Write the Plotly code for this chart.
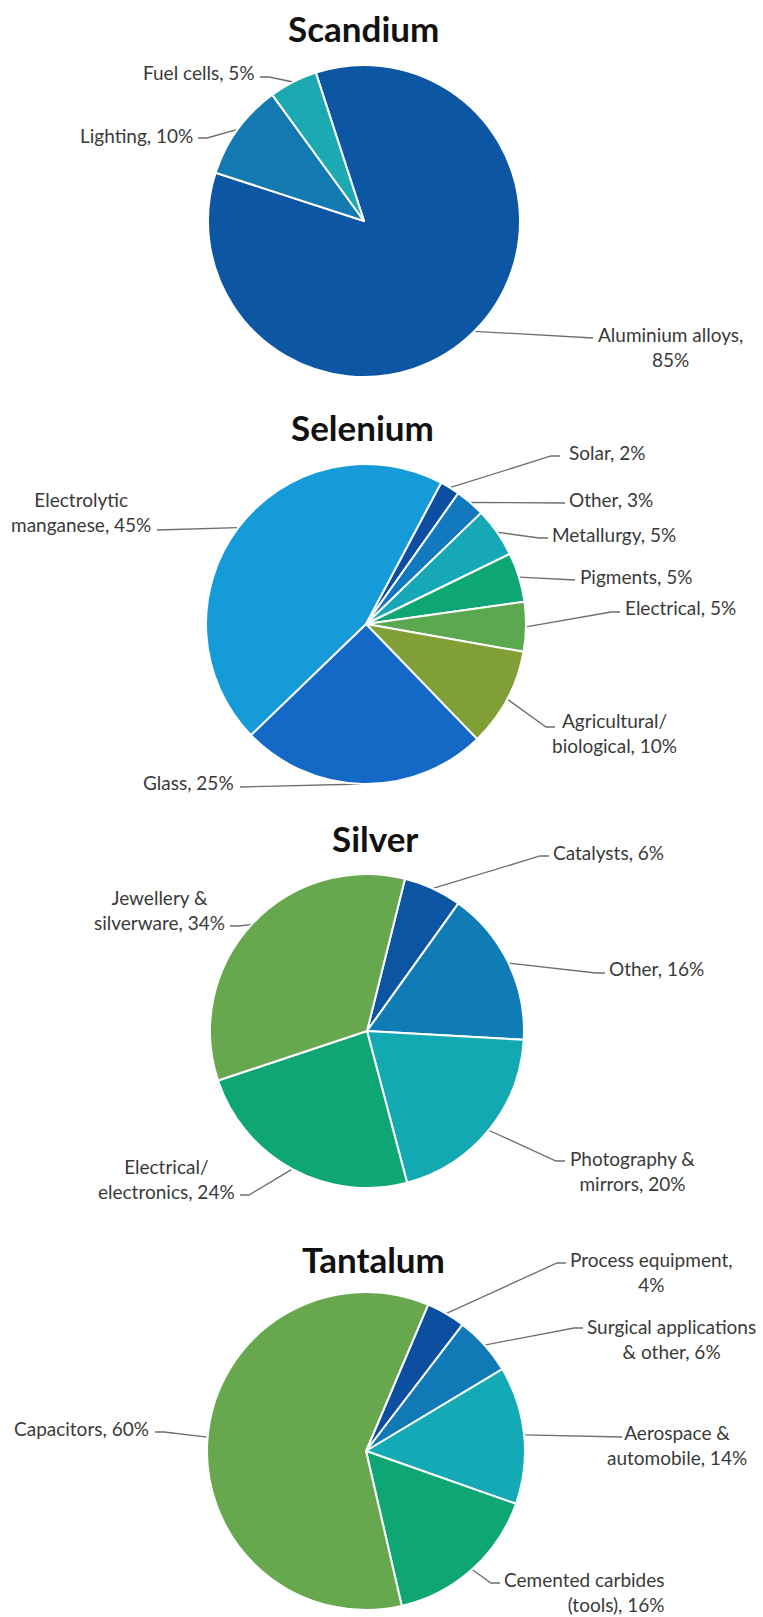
import math
import plotly.graph_objects as go

# ---- data -------------------------------------------------------------
scandium_labels = ["Aluminium alloys", "Lighting", "Fuel cells"]
scandium_values = [85, 10, 5]

selenium_labels = ["Solar", "Other", "Metallurgy", "Pigments", "Electrical",
                   "Agricultural/ biological", "Glass", "Electrolytic manganese"]
selenium_values = [2, 3, 5, 5, 5, 10, 25, 45]

silver_labels = ["Catalysts", "Other", "Photography & mirrors",
                 "Electrical/ electronics", "Jewellery & silverware"]
silver_values = [6, 16, 20, 24, 34]

tantalum_labels = ["Process equipment", "Surgical applications & other",
                   "Aerospace & automobile", "Cemented carbides (tools)", "Capacitors"]
tantalum_values = [4, 6, 14, 16, 60]

# ---- styling / layout -------------------------------------------------
W, H = 763, 1617
FONT = "Lato, 'Open Sans', sans-serif"
TEXT_COLOR = "#3a3a3a"
LINE_COLOR = "#6e6e6e"
LABEL_SIZE = 19
TITLE_SIZE = 35

# per label: (display template, x, y, xanchor, align, leader end x, leader end y)
charts = [
    dict(title="Scandium", tx=363, ty=28, cx=364, cy=221, r=156, rotation=-18,
         labels=scandium_labels, values=scandium_values,
         colors=["#0D56A3", "#1379B1", "#1CA9B1"],
         place={
             "Aluminium alloys": ("{n},|{v}%", 596, 347, "left", "center", 593, 338),
             "Lighting": ("{n}, {v}%", 195, 135, "right", "right", 198, 138),
             "Fuel cells": ("{n}, {v}%", 257, 72, "right", "right", 260, 77),
         }),
    dict(title="Selenium", tx=362, ty=427, cx=366, cy=624, r=160, rotation=28,
         labels=selenium_labels, values=selenium_values,
         colors=["#0C4FA2", "#1279BF", "#17A8B7", "#0FA676", "#5CA851",
                 "#819F37", "#1468C6", "#159CD8"],
         place={
             "Solar": ("{n}, {v}%", 567, 452, "left", "left", 560, 456),
             "Other": ("{n}, {v}%", 567, 499, "left", "left", 565, 503),
             "Metallurgy": ("{n}, {v}%", 550, 534, "left", "left", 548, 538),
             "Pigments": ("{n}, {v}%", 578, 576, "left", "left", 575, 580),
             "Electrical": ("{n}, {v}%", 623, 607, "left", "left", 620, 612),
             "Agricultural/ biological": ("Agricultural/|biological, {v}%", 550, 733, "left", "center", 555, 727),
             "Glass": ("{n}, {v}%", 236, 782, "right", "right", 240, 787),
             "Electrolytic manganese": ("Electrolytic|manganese, {v}%", 153, 512, "right", "center", 157, 530),
         }),
    dict(title="Silver", tx=375, ty=838, cx=367, cy=1031, r=157, rotation=14,
         labels=silver_labels, values=silver_values,
         colors=["#0C55A3", "#107CB5", "#13A9B3", "#0FA676", "#67A74D"],
         place={
             "Catalysts": ("{n}, {v}%", 551, 852, "left", "left", 549, 856),
             "Other": ("{n}, {v}%", 607, 968, "left", "left", 605, 973),
             "Photography & mirrors": ("Photography &|mirrors, {v}%", 568, 1171, "left", "center", 565, 1161),
             "Electrical/ electronics": ("Electrical/|electronics, {v}%", 237, 1179, "right", "center", 240, 1195),
             "Jewellery & silverware": ("Jewellery &|silverware, {v}%", 227, 910, "right", "center", 230, 926),
         }),
    dict(title="Tantalum", tx=373, ty=1259, cx=366, cy=1451, r=159, rotation=23,
         labels=tantalum_labels, values=tantalum_values,
         colors=["#0C4FA0", "#1279B7", "#13A9B5", "#0FA676", "#67A74D"],
         place={
             "Process equipment": ("Process equipment,|{v}%", 568, 1272, "left", "center", 566, 1263),
             "Surgical applications & other": ("Surgical applications|& other, {v}%", 585, 1339, "left", "center", 583, 1328),
             "Aerospace & automobile": ("Aerospace &|automobile, {v}%", 605, 1445, "left", "center", 622, 1437),
             "Cemented carbides (tools)": ("Cemented carbides|(tools), {v}%", 502, 1592, "left", "right", 500, 1583),
             "Capacitors": ("{n}, {v}%", 151, 1428, "right", "right", 155, 1432),
         }),
]

fig = go.Figure()
annotations = []

for ch in charts:
    cx, cy, r = ch["cx"], ch["cy"], ch["r"]
    fig.add_trace(go.Pie(
        labels=ch["labels"], values=ch["values"],
        sort=False, direction="clockwise", rotation=ch["rotation"],
        marker=dict(colors=ch["colors"], line=dict(color="white", width=2)),
        textinfo="none", hoverinfo="label+percent", showlegend=False,
        domain=dict(x=[(cx - r) / W, (cx + r) / W],
                    y=[1 - (cy + r) / H, 1 - (cy - r) / H]),
    ))

    annotations.append(dict(
        text=f"<b>{ch['title']}</b>", x=ch["tx"], y=ch["ty"], xref="x", yref="y",
        showarrow=False, xanchor="center", yanchor="middle",
        font=dict(family=FONT, size=TITLE_SIZE, color="#111111"),
    ))

    # leader lines: from the slice's mid-angle on the rim to its label
    total = sum(ch["values"])
    start = ch["rotation"]
    lx_all, ly_all = [], []
    for name, val in zip(ch["labels"], ch["values"]):
        span = 360.0 * val / total
        mid = math.radians(start + span / 2)
        start += span
        ex = cx + r * math.sin(mid)
        ey = cy - r * math.cos(mid)
        fmt, tx, ty, xa, align, lx, ly = ch["place"][name]
        step = 9 if lx > cx else -9
        lx_all += [ex, lx - step, lx, None]
        ly_all += [ey, ly, ly, None]
        text = fmt.format(n=name, v=val).replace("|", "<br>")
        annotations.append(dict(
            text=text, x=tx, y=ty, xref="x", yref="y", showarrow=False,
            xanchor=xa, yanchor="middle", align=align,
            font=dict(family=FONT, size=LABEL_SIZE, color=TEXT_COLOR),
        ))
    fig.add_trace(go.Scatter(
        x=lx_all, y=ly_all, mode="lines", hoverinfo="skip", showlegend=False,
        line=dict(color=LINE_COLOR, width=1.3),
    ))

fig.update_layout(
    width=W, height=H, margin=dict(l=0, r=0, t=0, b=0),
    paper_bgcolor="white", plot_bgcolor="rgba(0,0,0,0)",
    xaxis=dict(range=[0, W], visible=False, fixedrange=True),
    yaxis=dict(range=[H, 0], visible=False, fixedrange=True),
    annotations=annotations,
)

fig.write_html("out.html")
